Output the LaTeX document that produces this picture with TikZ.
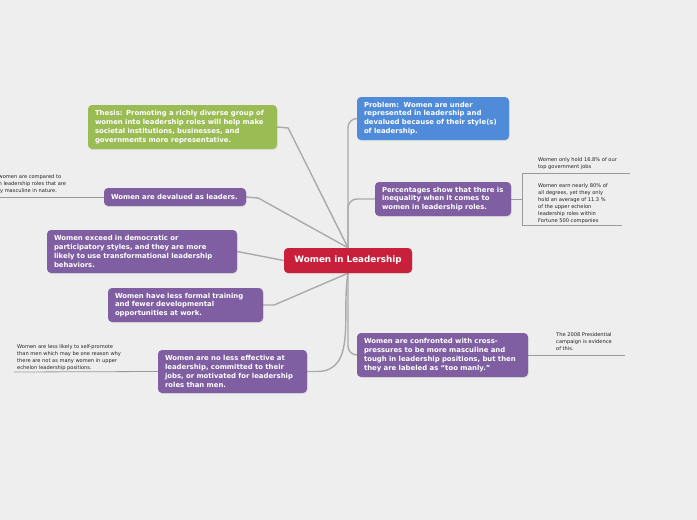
\documentclass[tikz,border=0pt]{standalone}
\usepackage{fontspec}
\setmainfont{DejaVu Sans}
\usetikzlibrary{backgrounds,shadows}
\definecolor{bgc}{HTML}{EEEEEE}
\definecolor{cred}{HTML}{C8203A}
\definecolor{cgreen}{HTML}{9BBB55}
\definecolor{cblue}{HTML}{4F8BD8}
\definecolor{cpurple}{HTML}{7F5FA1}
\definecolor{lgray}{HTML}{AAAAAA}
\definecolor{ngray}{HTML}{9A9A9A}
\definecolor{ntext}{HTML}{222222}
\begin{document}
\begin{tikzpicture}[x=1pt,y=-1pt,
  box/.style={rounded corners=4pt, text=white, align=left, inner xsep=7pt, inner ysep=0pt,
    font=\fontsize{6.9}{8.9}\selectfont\bfseries,
    drop shadow={opacity=0.12, shadow xshift=0.8pt, shadow yshift=-1.2pt}},
  note/.style={font=\fontsize{5.1}{7.1}\selectfont, text=ntext, align=left, inner sep=0pt, anchor=north west},
  conn/.style={draw=lgray, line width=1.4pt},
  nline/.style={draw=ngray, line width=0.8pt}]
\useasboundingbox (0,0) rectangle (697,520);
\begin{scope}[on background layer]
\fill[bgc] (0,0) rectangle (697,520);
\end{scope}

\node[box, fill=cred, minimum width=128pt, minimum height=25pt, align=center, inner xsep=0pt,
  font=\fontsize{8.8}{10}\selectfont\bfseries] (c) at (348,260.5) {Women in Leadership};

\node[box, fill=cgreen, text width=175pt, minimum height=44pt] (thesis) at (182.5,127)
  {Thesis: Promoting a richly diverse group of\\women into leadership roles will help make\\societal institutions, businesses, and\\governments more representative.};
\node[box, fill=cblue, text width=138pt, minimum height=43pt] (prob) at (433,118.5)
  {Problem:\ \ Women are under\\represented in leadership and\\devalued because of their style(s)\\of leadership.};
\node[box, fill=cpurple, text width=122pt, minimum height=34pt] (perc) at (443,199)
  {Percentages show that there is\\inequality when it comes to\\women in leadership roles.};
\node[box, fill=cpurple, text width=128pt, minimum height=18pt] (dev) at (175,197)
  {Women are devalued as leaders.};
\node[box, fill=cpurple, text width=176pt, minimum height=43pt] (exc) at (142,251.5)
  {Women exceed in democratic or\\participatory styles, and they are more\\likely to use transformational leadership\\behaviors.};
\node[box, fill=cpurple, text width=141pt, minimum height=34pt] (less) at (185.5,305)
  {Women have less formal training\\and fewer developmental\\opportunities at work.};
\node[box, fill=cpurple, text width=135pt, minimum height=43pt] (noless) at (232.5,371.5)
  {Women are no less effective at\\leadership, committed to their\\jobs, or motivated for leadership\\roles than men.};
\node[box, fill=cpurple, text width=157pt, minimum height=44pt] (conf) at (442.5,355)
  {Women are confronted with cross-\\pressures to be more masculine and\\tough in leadership positions, but then\\they are labeled as ``too manly.''};

\node[note] (n1) at (538,157.5) {Women only hold 16.8\% of our\\top government jobs};
\node[note] (n2) at (538,183) {Women earn nearly 80\% of\\all degrees, yet they only\\hold an average of 11.3 \%\\of the upper echelon\\leadership roles within\\Fortune 500 companies};
\node[note] (n3) at (556,332.5) {The 2008 Presidential\\campaign is evidence\\of this.};
\node[note] (n4) at (17,344.5) {Women are less likely to self-promote\\than men which may be one reason why\\there are not as many women in upper\\echelon leadership positions.};
\node[note] (n5) at (-1.5,174.5) {women are compared to\\n leadership roles that are\\ly masculine in nature.};

\coordinate (br) at (522,199);
\coordinate (b1) at (522,173);
\coordinate (b2) at (522,225);
\coordinate (e1) at (630,173);
\coordinate (e2) at (622,225);
\coordinate (e3) at (625,355);
\coordinate (e4) at (14,372);
\coordinate (e5) at (0,197);

\begin{scope}[on background layer]
\draw[conn] (thesis.east) -- ++(11,1) -- (c.north);
\draw[conn] (dev.east) -- ++(12,1) -- (c.north);
\draw[conn] (exc.east) -- (c.west);
\draw[conn] (less.east) -- ++(11,0) -- (c.south);
\draw[conn] (noless.east) -- ++(10,0) to[out=0,in=-100] (c.south);
\draw[conn, rounded corners=9pt] (c.north) |- (prob.west);
\draw[conn, rounded corners=9pt] (c.north) |- (perc.west);
\draw[conn, rounded corners=9pt] (c.south) |- (conf.west);
\draw[nline] (perc.east) -- (br);
\draw[nline] (b1) -- (b2);
\draw[nline] (b1) -- (e1);
\draw[nline] (b2) -- (e2);
\draw[nline] (conf.east) -- (e3);
\draw[nline] (noless.west) -- (e4);
\draw[nline] (dev.west) -- (e5);
\end{scope}
\end{tikzpicture}
\end{document}
